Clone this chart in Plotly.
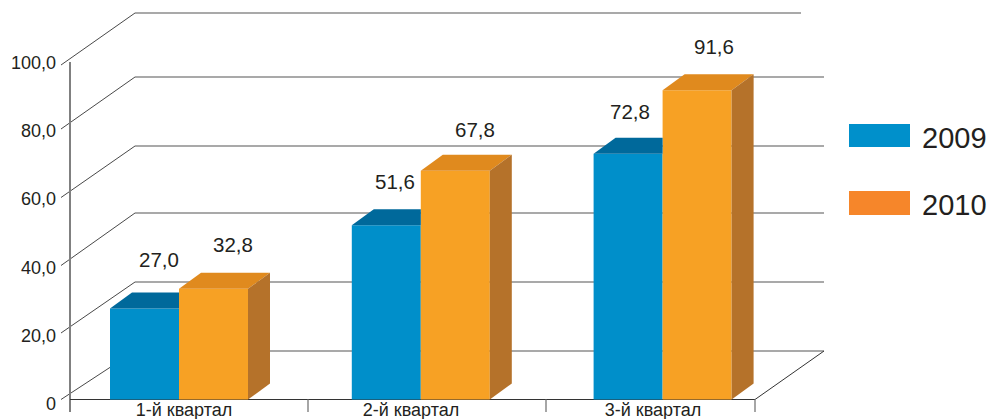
import plotly.graph_objects as go

# ---- data ----
quarters = ["1-й квартал", "2-й квартал", "3-й квартал"]
values_2009 = [27.0, 51.6, 72.8]
values_2010 = [32.8, 67.8, 91.6]
series_names = ["2009", "2010"]
y_ticks = [0, 20, 40, 60, 80, 100]
y_tick_text = ["0", "20,0", "40,0", "60,0", "80,0", "100,0"]
label_text_2009 = ["27,0", "51,6", "72,8"]
label_text_2010 = ["32,8", "67,8", "91,6"]

# ---- layout constants (figure pixels -> axis units) ----
W, H = 987, 419
X0_PX, X_UNIT = 179.0, 241.8       # pixel of category 0, pixels per category
Y0_PX, Y_UNIT = 399.5, 3.375       # pixel of value 0, pixels per value unit
WALL_PX = [351, 282, 213, 146, 77, 13]          # back-wall pixel row of each y tick
DIAG_PX = [399.5, 333, 265.5, 197.5, 129, 65]   # front end of each wall diagonal
TICK_LABEL_PX = [404, 336, 268, 199, 131, 63]   # pixel row of each y tick label


def ux(px):
    return (px - X0_PX) / X_UNIT


def uy(px):
    return (Y0_PX - px) / Y_UNIT


def dxu(px):
    return px / X_UNIT


def duy(px):
    return px / Y_UNIT


BAR_W = dxu(69)
BAR_DX, BAR_DY = dxu(22), duy(16)
LEFT, WALL_L, FRONT_R, WALL_R, TOP_R = ux(70), ux(135), ux(755), ux(824), ux(801)
DIAG_START = ux(61)
BELOW = -duy(12.5)

BLUE, BLUE_TOP = "#008fca", "#00699b"
ORANGE, ORANGE_TOP, ORANGE_SIDE = "#f7a124", "#e08a1e", "#b5722a"
LEG_BLUE, LEG_ORANGE = "#0090cb", "#f6862a"
GRID, DARK, AXIS, TEXT = "#555555", "#333333", "#808080", "#231f20"

x_pos = list(range(len(quarters)))
fig = go.Figure()

# front faces
fig.add_bar(x=x_pos, y=values_2009, name=series_names[0], marker=dict(color=BLUE, line_width=0))
fig.add_bar(x=x_pos, y=values_2010, name=series_names[1], marker=dict(color=ORANGE, line_width=0))


def face(xs, ys, color):
    fig.add_trace(go.Scatter(x=xs, y=ys, mode="lines", fill="toself", fillcolor=color,
                             line=dict(width=0, color=color), hoverinfo="skip", showlegend=False))


for i in x_pos:
    # top face of the 2009 bar: its right part is hidden by the 2010 bar
    l = i - BAR_W
    v = values_2009[i]
    face([l, l + BAR_DX, i, i, l], [v, v + BAR_DY, v + BAR_DY, v, v], BLUE_TOP)
    # top and side faces of the 2010 bar
    r = i + BAR_W
    v = values_2010[i]
    face([i, i + BAR_DX, r + BAR_DX, r, i], [v, v + BAR_DY, v + BAR_DY, v, v], ORANGE_TOP)
    face([r, r + BAR_DX, r + BAR_DX, r, r], [v, v + BAR_DY, BAR_DY, 0, v], ORANGE_SIDE)

# grid / walls
shapes = []


def line(x0, y0, x1, y1, color, width=1.0):
    shapes.append(dict(type="line", layer="below", xref="x", yref="y", x0=x0, y0=y0, x1=x1, y1=y1,
                       line=dict(color=color, width=width)))


for t, wall, diag in zip(y_ticks, WALL_PX, DIAG_PX):
    back = uy(wall)
    line(WALL_L, back, TOP_R if t == y_ticks[-1] else WALL_R, back, GRID, 1.2)
    line(DIAG_START, uy(diag), WALL_L, back, DARK, 0.9)
line(LEFT, BELOW, LEFT, y_ticks[-1], AXIS, 2)
line(LEFT, 0, FRONT_R, 0, DARK, 1.1)
line(FRONT_R, 0, WALL_R, uy(WALL_PX[0]), DARK, 1)
for px in (308, 546, 755):
    line(ux(px), 0, ux(px), BELOW, AXIS, 1.4)

# legend
legend_rows = [(series_names[0], LEG_BLUE, 124, 147), (series_names[1], LEG_ORANGE, 191, 215)]
annotations = []
for name, color, top, bottom in legend_rows:
    shapes.append(dict(type="rect", xref="paper", yref="paper", x0=849 / W, x1=910 / W,
                       y0=1 - bottom / H, y1=1 - top / H, fillcolor=color, line_width=0))
    annotations.append(dict(xref="paper", yref="paper", x=920 / W, y=1 - (top + bottom + 4) / 2 / H,
                            text=name, showarrow=False, xanchor="left", yanchor="middle",
                            font=dict(size=29, color=TEXT)))

# data labels
shift_2009 = [(14, 49), (9, 44), (2, 42)]
shift_2010 = [(19, 44), (20, 41), (17, 44)]
for i in x_pos:
    for sign, vals, texts, shift in ((-0.5, values_2009, label_text_2009, shift_2009),
                                     (0.5, values_2010, label_text_2010, shift_2010)):
        annotations.append(dict(x=i + sign * BAR_W, y=vals[i], text=texts[i], showarrow=False,
                                xanchor="center", yanchor="middle",
                                xshift=shift[i][0], yshift=shift[i][1],
                                font=dict(size=20.5, color=TEXT)))

label_pos = [ux(184), ux(411), ux(653)]

fig.update_layout(
    width=W, height=H, margin=dict(l=0, r=0, t=0, b=0), autosize=False,
    paper_bgcolor="white", plot_bgcolor="white",
    font=dict(family="Liberation Sans, Arial, sans-serif", color=TEXT),
    barmode="group", bargap=1 - 2 * BAR_W, bargroupgap=0,
    showlegend=False, shapes=shapes, annotations=annotations,
    xaxis=dict(range=[ux(0), ux(W)], showgrid=False, zeroline=False, showline=False, ticks="",
               automargin=False, tickmode="array", tickvals=label_pos, ticktext=quarters,
               tickfont=dict(size=18, color=TEXT),
               anchor="free", position=1 - (Y0_PX - 2.5) / H),
    yaxis=dict(range=[-(H - Y0_PX) / Y_UNIT, Y0_PX / Y_UNIT], showgrid=False, zeroline=False,
               showline=False, ticks="", tickmode="array",
               tickvals=[uy(p) for p in TICK_LABEL_PX], ticktext=y_tick_text,
               automargin=False, tickfont=dict(size=18, color=TEXT), ticklabelstandoff=14,
               anchor="free", position=70 / W),
)

fig.write_html("out.html", config={"displayModeBar": False},
               post_script="document.body.style.margin='0';document.body.style.overflow='hidden';")
